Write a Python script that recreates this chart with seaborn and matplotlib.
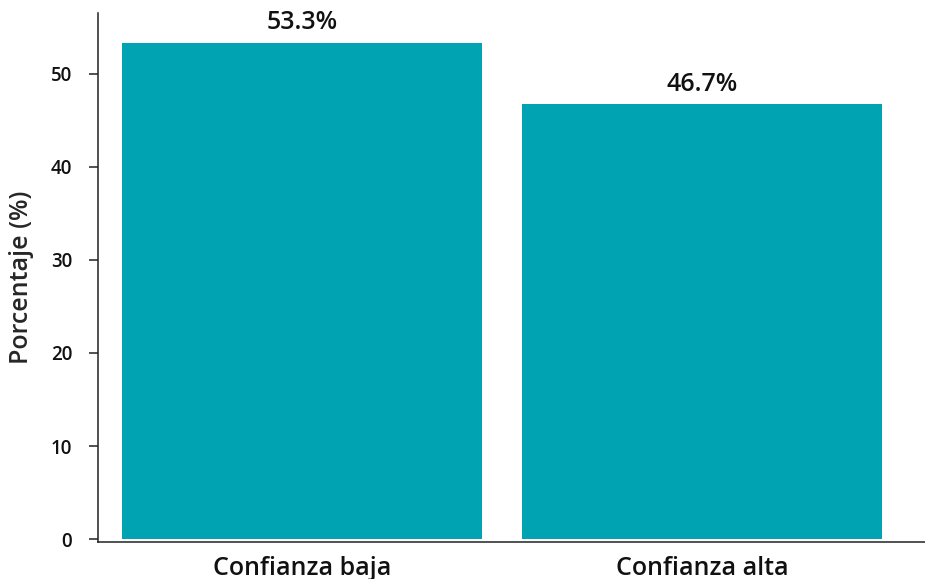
import matplotlib
matplotlib.use("Agg")
import matplotlib.pyplot as plt
import pandas as pd
import seaborn as sns

categories = ["Confianza baja", "Confianza alta"]
percentages = [53.3, 46.7]
yticks = [0, 10, 20, 30, 40, 50]

bar_color = "#00A3B1"

sns.set_theme(style="white")
plt.rcParams["font.family"] = ["Open Sans", "DejaVu Sans"]
plt.rcParams["font.weight"] = "semibold"

df = pd.DataFrame({"categoria": categories, "porcentaje": percentages})

fig = plt.figure(figsize=(9.25, 5.79), dpi=100)
ax = fig.add_axes([0.106, 0.064, 0.894, 0.9135])

sns.barplot(data=df, x="categoria", y="porcentaje", color=bar_color,
            width=0.9, saturation=1, linewidth=0, ax=ax)

# value labels above each bar
for i, v in enumerate(percentages):
    ax.text(i, v + 0.8, "%.1f%%" % v, ha="center", va="bottom",
            fontsize=18, fontweight="semibold", color="#111111")

ax.set_xlim(-0.51, 1.5575)
ax.set_ylim(-0.3, 56.5)
ax.set_yticks(yticks)
ax.set_xlabel("")
ax.set_ylabel("Porcentaje (%)", fontsize=18, fontweight="semibold", labelpad=12)
ax.tick_params(axis="y", left=True, length=6.5, width=1.1, labelsize=13.5,
               color="#222222", pad=12)
ax.tick_params(axis="x", bottom=False, length=0, labelsize=18, pad=10)
for lab in ax.get_xticklabels() + ax.get_yticklabels():
    lab.set_fontweight("semibold")
    lab.set_color("#111111")

sns.despine(ax=ax)
for side in ["left", "bottom"]:
    ax.spines[side].set_color("#222222")
    ax.spines[side].set_linewidth(1.1)

fig.savefig("out.png", dpi=100)
